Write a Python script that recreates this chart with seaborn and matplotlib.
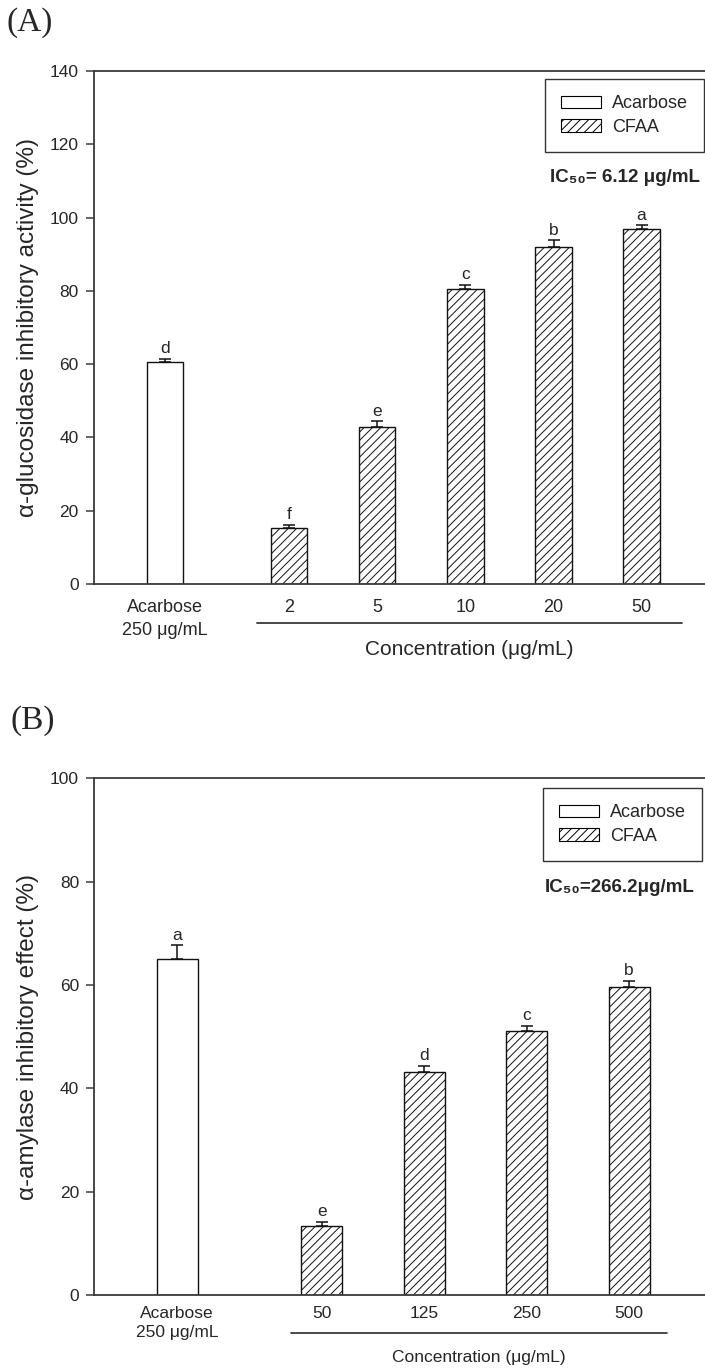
import numpy as np
import pandas as pd
import matplotlib
matplotlib.use("Agg")
import matplotlib.pyplot as plt
import matplotlib.transforms as mtransforms
from matplotlib.patches import Patch
import seaborn as sns

# ---------------- data ----------------
A_labels = ["Acarbose\n250 μg/mL", "2", "5", "10", "20", "50"]
A_groups = ["Acarbose", "CFAA", "CFAA", "CFAA", "CFAA", "CFAA"]
A_values = [60.6, 15.3, 42.8, 80.6, 92.0, 97.0]
A_errors = [0.9, 0.9, 1.6, 1.1, 1.8, 0.9]
A_letters = ["d", "f", "e", "c", "b", "a"]
A_ylabel = "α-glucosidase inhibitory activity (%)"
A_ic50 = "IC₅₀= 6.12 μg/mL"

B_labels = ["Acarbose\n250 μg/mL", "50", "125", "250", "500"]
B_groups = ["Acarbose", "CFAA", "CFAA", "CFAA", "CFAA"]
B_values = [65.0, 13.3, 43.2, 51.0, 59.7]
B_errors = [2.7, 0.9, 1.2, 1.1, 1.1]
B_letters = ["a", "e", "d", "c", "b"]
B_ylabel = "α-amylase inhibitory effect (%)"
B_ic50 = "IC₅₀=266.2μg/mL"

xlabel_text = "Concentration (μg/mL)"
legend_labels = ["Acarbose", "CFAA"]

# ---------------- style ----------------
sns.set_style("ticks")
plt.rcParams["font.family"] = ["Liberation Sans", "DejaVu Sans"]
plt.rcParams["hatch.linewidth"] = 0.7
SPINE = "#3a3a3a"

W, H = 705, 1369
fig = plt.figure(figsize=(W / 100, H / 100), dpi=100)
fig.patch.set_facecolor("white")


def positions(groups, gap=1.41):
    pos, k = [], 0
    for g in groups:
        if g == "Acarbose":
            pos.append(0.0)
        else:
            pos.append(gap + k)
            k += 1
    return np.array(pos)


def panel(rect, labels, groups, values, errors, letters, ylabel, ic50,
          ymax, xlim, width, tick_fs, xtick_fs, xtick_pad, linesp,
          line_ext, line_y, conc_fs, conc_y, leg_anchor, ic_xy, panel_label,
          panel_xy, ylab_x):
    ax = fig.add_axes(rect)
    pos = positions(groups)
    df = pd.DataFrame({"pos": pos, "value": values, "group": groups})
    sns.barplot(data=df, x="pos", y="value", hue="group", native_scale=True,
                dodge=False, width=width, errorbar=None, legend=False,
                palette={"Acarbose": "white", "CFAA": "white"},
                edgecolor="#111111", linewidth=1.0, ax=ax, zorder=2)
    cfaa_pos = pos[np.array(groups) == "CFAA"]
    for p in ax.patches:
        cx = p.get_x() + p.get_width() / 2
        if np.min(np.abs(cfaa_pos - cx)) < 1e-6:
            p.set_hatch("////")
    ax.errorbar(pos, values, yerr=[np.zeros(len(values)), errors], fmt="none",
                ecolor="#111111", elinewidth=1.1, capsize=4, capthick=1.1, zorder=3)
    for x, v, e, t in zip(pos, values, errors, letters):
        ax.annotate(t, (x, v + e), xytext=(0, 4), textcoords="offset points",
                    ha="center", va="baseline", fontsize=12.5)
    ax.set_xlim(*xlim)
    ax.set_ylim(0, ymax)
    ax.set_yticks(np.arange(0, ymax + 1, 20))
    ax.set_xticks(pos)
    ax.set_xticklabels(labels, fontsize=xtick_fs, linespacing=linesp)
    ax.tick_params(axis="x", length=0, pad=xtick_pad)
    ax.tick_params(axis="y", length=6, width=1.1, color=SPINE, pad=5,
                   labelsize=tick_fs, direction="out")
    ax.set_xlabel("")
    ax.set_ylabel(ylabel, fontsize=17.5)
    ax.yaxis.set_label_coords(ylab_x, 0.5)
    for s in ["left", "bottom", "top"]:
        ax.spines[s].set_color(SPINE)
        ax.spines[s].set_linewidth(1.3)
    ax.spines["right"].set_visible(False)

    # grouping line + concentration text
    trans = mtransforms.blended_transform_factory(ax.transData, ax.transAxes)
    x0 = cfaa_pos[0] - line_ext[0]
    x1 = cfaa_pos[-1] + line_ext[1]
    ax.plot([x0, x1], [line_y, line_y], transform=trans, clip_on=False,
            color=SPINE, lw=1.3)
    ax.text((x0 + x1) / 2, conc_y, xlabel_text, transform=trans,
            ha="center", va="baseline", fontsize=conc_fs)

    handles = [Patch(facecolor="white", edgecolor="black", linewidth=0.8,
                     label=legend_labels[0]),
               Patch(facecolor="white", edgecolor="black", linewidth=0.8,
                     hatch="////", label=legend_labels[1])]
    leg = ax.legend(handles=handles, loc="upper right",
                    bbox_to_anchor=leg_anchor, bbox_transform=fig.transFigure,
                    borderaxespad=0, fancybox=False, framealpha=1,
                    edgecolor="#333333", fontsize=13, handlelength=2.2,
                    handleheight=0.72, handletextpad=0.6, labelspacing=0.35,
                    borderpad=0.9)
    leg.get_frame().set_linewidth(1.0)

    fig.text(ic_xy[0] / W, 1 - ic_xy[1] / H, ic50, ha="right", va="baseline",
             fontsize=13.5, fontweight="bold")
    fig.text(panel_xy[0] / W, 1 - panel_xy[1] / H, panel_label, ha="left",
             va="top", fontsize=24, family=["Liberation Serif", "DejaVu Serif"])
    return ax


panel([94 / W, 1 - 584 / H, 625 / W, 513 / H],
      A_labels, A_groups, A_values, A_errors, A_letters, A_ylabel, A_ic50,
      ymax=140, xlim=(-0.81, 6.29), width=0.41, tick_fs=12.5, xtick_fs=13,
      xtick_pad=10.5, linesp=1.5, line_ext=(0.365, 0.46), line_y=-0.0766,
      conc_fs=15, conc_y=-0.1384, leg_anchor=(704 / W, 1 - 79 / H),
      ic_xy=(700, 181.7), panel_label="(A)", panel_xy=(6, 7), ylab_x=-0.088)

panel([94.3 / W, 1 - 1295 / H, 625 / W, 516.7 / H],
      B_labels, B_groups, B_values, B_errors, B_letters, B_ylabel, B_ic50,
      ymax=100, xlim=(-0.807, 5.29), width=0.40, tick_fs=12.5, xtick_fs=12.5,
      xtick_pad=8, linesp=1.35, line_ext=(0.30, 0.37), line_y=-0.0741,
      conc_fs=12.5, conc_y=-0.129, leg_anchor=(702 / W, 1 - 788 / H),
      ic_xy=(695, 891.7), panel_label="(B)", panel_xy=(11, 705), ylab_x=-0.088)

fig.savefig("out.png", dpi=100, facecolor="white")
